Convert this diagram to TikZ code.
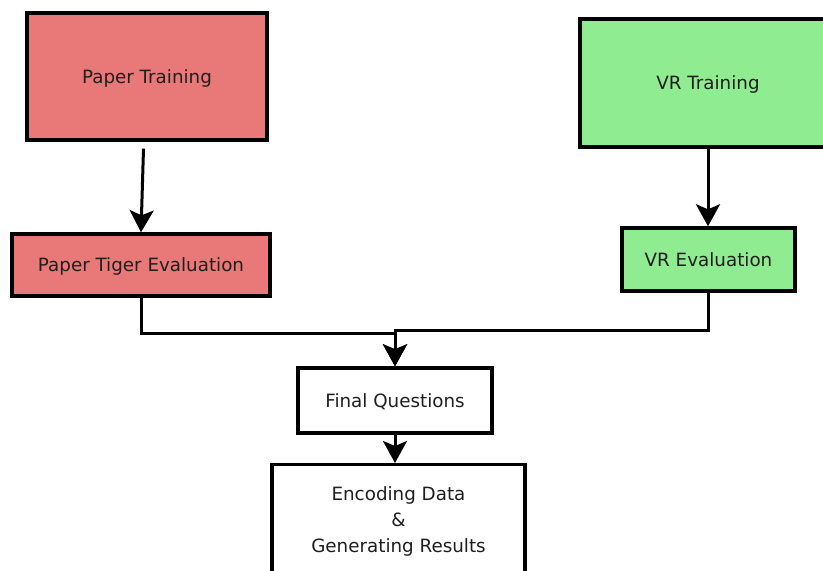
\documentclass[tikz,border=0pt]{standalone}
\usepackage{fontspec}
\setmainfont{DejaVu Sans}
\usetikzlibrary{arrows.meta,calc}

\definecolor{paperred}{RGB}{232,121,120}
\definecolor{vrgreen}{RGB}{144,236,144}

\tikzset{
  label text/.style={font=\fontsize{18.3}{26}\selectfont, align=center, text=black!88},
  box/.style={draw=black, line width=3.4pt, rectangle, inner sep=0pt,
              text depth=0pt, label text},
  arr/.style={draw=black, line width=3pt,
              -{Stealth[length=22pt, width=24pt, inset=5pt]}},
}

\begin{document}
\begin{tikzpicture}[x=1pt, y=-1pt]
  \useasboundingbox (0,0) rectangle (823,571);
  \clip (0,0) rectangle (823,571);
  \fill[white] (0,0) rectangle (823,571);

  % training and evaluation boxes
  \node[box, fill=paperred, minimum width=240pt, minimum height=127pt]
    (pt) at (147,76.5) {Paper Training};
  \node[box, fill=paperred, minimum width=258pt, minimum height=62pt]
    (pte) at (141,265) {Paper Tiger Evaluation};
  \node[box, fill=vrgreen, minimum width=256pt, minimum height=128pt]
    (vr) at (708,83) {VR Training};
  \node[box, fill=vrgreen, minimum width=173pt, minimum height=63pt]
    (vre) at (708.5,259.5) {VR Evaluation};

  % shared final stages
  \node[box, fill=white, minimum width=194pt, minimum height=65pt]
    (fq) at (395,400.5) {Final Questions};
  \node[box, fill=white, minimum width=253pt, minimum height=160pt, anchor=north]
    (enc) at (398.5,463) {};
  \node[label text, anchor=north]
    (enctext) at (398.5,483) {Encoding Data\\[0pt]\&\\[0pt]Generating Results};

  % connectors
  \draw[arr] ($(pt.south)+(-3.5,7)$) -- (pte.north);
  \draw[arr] (vr.south) -- (vr.south |- vre.north);
  \draw[arr] (pte.south) -- ++(0,36) -| (fq.north);
  \draw[arr] (vre.south) -- ++(0,38) -| (fq.north);
  \draw[arr] (fq.south) -- (fq.south |- enc.north);
\end{tikzpicture}
\end{document}
